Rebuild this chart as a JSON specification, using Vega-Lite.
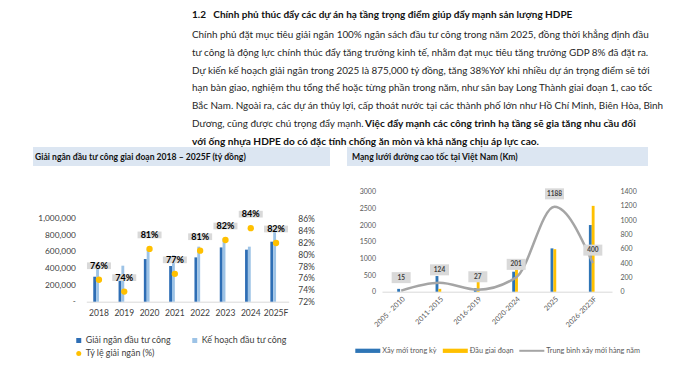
{
  "$schema": "https://vega.github.io/schema/vega-lite/v6.json",
  "background": "white",
  "padding": {"left": 33, "top": 0, "right": 0, "bottom": 0},
  "spacing": 0,
  "bounds": "flush",
  "resolve": {"scale": {"color": "independent"}, "legend": {"color": "independent"}},
  "config": {
    "view": {"stroke": null},
    "font": "Lato",
    "axis": {"labelFont": "Lato", "grid": false, "ticks": false, "domain": false, "title": null},
    "legend": {"labelFont": "Lato"}
  },
  "datasets": {
    "para": [
      {"line": 0, "kind": "h", "t": "1.2\u00a0\u00a0\u00a0Chính phủ thúc đẩy các dự án hạ tầng trọng điểm giúp đẩy mạnh sản lượng HDPE"},
      {"line": 1, "kind": "r", "t": "Chính phủ đặt mục tiêu giải ngân 100% ngân sách đầu tư công trong năm 2025, đồng thời khẳng định đầu"},
      {"line": 2, "kind": "r", "t": "tư công là động lực chính thúc đẩy tăng trưởng kinh tế, nhằm đạt mục tiêu tăng trưởng GDP 8% đã đặt ra."},
      {"line": 3, "kind": "r", "t": "Dự kiến kế hoạch giải ngân trong 2025 là 875,000 tỷ đồng, tăng 38%YoY khi nhiều dự án trọng điểm sẽ tới"},
      {"line": 4, "kind": "r", "t": "hạn bàn giao, nghiệm thu tổng thể hoặc từng phần trong năm, như sân bay Long Thành giai đoạn 1, cao tốc"},
      {"line": 5, "kind": "r", "t": "Bắc Nam. Ngoài ra, các dự án thủy lợi, cấp thoát nước tại các thành phố lớn như Hồ Chí Minh, Biên Hòa, Bình"},
      {"line": 6, "kind": "r", "t": "Dương, cũng được chú trọng đẩy mạnh."},
      {"line": 6, "kind": "bm", "t": "Việc đẩy mạnh các công trình hạ tầng sẽ gia tăng nhu cầu đối"},
      {"line": 7, "kind": "b", "t": "với ống nhựa HDPE do có đặc tính chống ăn mòn và khả năng chịu áp lực cao."}
    ],
    "spend": [
      {"year": "2018", "series": "Giải ngân đầu tư công", "value": 301000},
      {"year": "2018", "series": "Kế hoạch đầu tư công", "value": 397000},
      {"year": "2019", "series": "Giải ngân đầu tư công", "value": 321000},
      {"year": "2019", "series": "Kế hoạch đầu tư công", "value": 434000},
      {"year": "2020", "series": "Giải ngân đầu tư công", "value": 514000},
      {"year": "2020", "series": "Kế hoạch đầu tư công", "value": 638000},
      {"year": "2021", "series": "Giải ngân đầu tư công", "value": 430000},
      {"year": "2021", "series": "Kế hoạch đầu tư công", "value": 558000},
      {"year": "2022", "series": "Giải ngân đầu tư công", "value": 534000},
      {"year": "2022", "series": "Kế hoạch đầu tư công", "value": 663000},
      {"year": "2023", "series": "Giải ngân đầu tư công", "value": 654000},
      {"year": "2023", "series": "Kế hoạch đầu tư công", "value": 762000},
      {"year": "2024", "series": "Giải ngân đầu tư công", "value": 627000},
      {"year": "2024", "series": "Kế hoạch đầu tư công", "value": 663000},
      {"year": "2025F", "series": "Giải ngân đầu tư công", "value": 723000},
      {"year": "2025F", "series": "Kế hoạch đầu tư công", "value": 875000}
    ],
    "rate": [
      {"year": "2018", "series": "Tỷ lệ giải ngân (%)", "rate": 0.757},
      {"year": "2019", "series": "Tỷ lệ giải ngân (%)", "rate": 0.737},
      {"year": "2020", "series": "Tỷ lệ giải ngân (%)", "rate": 0.809},
      {"year": "2021", "series": "Tỷ lệ giải ngân (%)", "rate": 0.767},
      {"year": "2022", "series": "Tỷ lệ giải ngân (%)", "rate": 0.806},
      {"year": "2023", "series": "Tỷ lệ giải ngân (%)", "rate": 0.824},
      {"year": "2024", "series": "Tỷ lệ giải ngân (%)", "rate": 0.844},
      {"year": "2025F", "series": "Tỷ lệ giải ngân (%)", "rate": 0.819}
    ],
    "km": [
      {"period": "2005 - 2010", "series": "Xây mới trong kỳ", "km": 85},
      {"period": "2005 - 2010", "series": "Đầu giai đoạn", "km": 0},
      {"period": "2011-2015", "series": "Xây mới trong kỳ", "km": 470},
      {"period": "2011-2015", "series": "Đầu giai đoạn", "km": 85},
      {"period": "2016-2019", "series": "Xây mới trong kỳ", "km": 105},
      {"period": "2016-2019", "series": "Đầu giai đoạn", "km": 555},
      {"period": "2020-2024", "series": "Xây mới trong kỳ", "km": 600},
      {"period": "2020-2024", "series": "Đầu giai đoạn", "km": 665},
      {"period": "2025", "series": "Xây mới trong kỳ", "km": 1300},
      {"period": "2025", "series": "Đầu giai đoạn", "km": 1275},
      {"period": "2026-2023F", "series": "Xây mới trong kỳ", "km": 2000},
      {"period": "2026-2023F", "series": "Đầu giai đoạn", "km": 2575}
    ],
    "avg": [
      {"period": "2005 - 2010", "avg": 15},
      {"period": "2011-2015", "avg": 124},
      {"period": "2016-2019", "avg": 27},
      {"period": "2020-2024", "avg": 201},
      {"period": "2025", "avg": 1188},
      {"period": "2026-2023F", "avg": 400}
    ]
  },
  "vconcat": [
    {
      "width": 615,
      "height": 147,
      "data": {"name": "para"},
      "encoding": {
        "y": {"field": "line", "type": "quantitative", "scale": {"domain": [-0.97, 7.29], "reverse": true}, "axis": null}
      },
      "layer": [
        {
          "transform": [{"filter": "datum.kind == 'h'"}],
          "mark": {"type": "text", "align": "left", "baseline": "middle", "fontWeight": "bold", "fontSize": 10, "dy": -2, "color": "#111111"},
          "encoding": {"x": {"datum": 159, "type": "quantitative", "scale": {"domain": [0, 615]}, "axis": null}, "text": {"field": "t"}}
        },
        {
          "transform": [{"filter": "datum.kind == 'r'"}],
          "mark": {"type": "text", "align": "left", "baseline": "middle", "fontSize": 9.9, "color": "#1f1f1f"},
          "encoding": {"x": {"datum": 159, "type": "quantitative", "scale": {"domain": [0, 615]}, "axis": null}, "text": {"field": "t"}}
        },
        {
          "transform": [{"filter": "datum.kind == 'b'"}],
          "mark": {"type": "text", "align": "left", "baseline": "middle", "fontSize": 10.1, "fontWeight": "bold", "color": "#111111"},
          "encoding": {"x": {"datum": 159, "type": "quantitative", "scale": {"domain": [0, 615]}, "axis": null}, "text": {"field": "t"}}
        },
        {
          "transform": [{"filter": "datum.kind == 'bm'"}],
          "mark": {"type": "text", "align": "left", "baseline": "middle", "fontSize": 10.1, "fontWeight": "bold", "color": "#111111"},
          "encoding": {"x": {"datum": 332, "type": "quantitative", "scale": {"domain": [0, 615]}, "axis": null}, "text": {"field": "t"}}
        }
      ]
    },
    {
      "spacing": 44.7,
      "bounds": "flush",
      "resolve": {"scale": {"color": "independent"}, "legend": {"color": "independent"}},
      "vconcat": [
        {
          "spacing": 17,
          "bounds": "flush",
          "hconcat": [
            {
              "width": 297,
              "height": 19,
              "view": {"fill": "#dce6f2"},
              "data": {"values": [{"t": "Giải ngân đầu tư công giai đoạn 2018 – 2025F (tỷ đồng)"}]},
              "mark": {"type": "text", "align": "left", "baseline": "middle", "fontWeight": "bold", "fontSize": 8.6, "dx": 2, "color": "#111111"},
              "encoding": {"x": {"datum": 0, "type": "quantitative", "scale": {"domain": [0, 1]}, "axis": null}, "text": {"field": "t"}}
            },
            {
              "width": 301,
              "height": 19,
              "view": {"fill": "#dce6f2"},
              "data": {"values": [{"t": "Mạng lưới đường cao tốc tại Việt Nam (Km)"}]},
              "mark": {"type": "text", "align": "left", "baseline": "middle", "fontWeight": "bold", "fontSize": 8.6, "dx": 5, "color": "#111111"},
              "encoding": {"x": {"datum": 0, "type": "quantitative", "scale": {"domain": [0, 1]}, "axis": null}, "text": {"field": "t"}}
            }
          ]
        },
        {
          "spacing": 93,
          "bounds": "flush",
          "resolve": {"scale": {"color": "independent"}, "legend": {"color": "independent"}},
          "hconcat": [
            {
              "width": 255.7,
              "height": 110,
              "encoding": {
                "x": {"field": "year", "type": "nominal", "scale": {"range": [53.3, 255.7], "paddingInner": 0.55, "paddingOuter": 0.275},
                  "axis": {"title": null, "labelAngle": 0, "domain": true, "domainColor": "#d9d9d9", "ticks": false, "labelFontSize": 8.5, "labelColor": "#404040", "labelPadding": 7}}
              },
              "layer": [
                {
                  "data": {"name": "spend"},
                  "mark": {"type": "bar"},
                  "encoding": {
                    "xOffset": {"field": "series", "scale": {"domain": ["Giải ngân đầu tư công", "Kế hoạch đầu tư công"], "paddingInner": 0}},
                    "y": {"field": "value", "type": "quantitative", "scale": {"domain": [0, 1325300]},
                      "axis": {"title": null, "offset": -53.3, "values": [0, 200000, 400000, 600000, 800000, 1000000], "labelExpr": "datum.value == 0 ? '-\u00a0\u00a0' : format(datum.value, ',')", "labelFontSize": 8.3, "labelColor": "#404040", "labelPadding": 11}},
                    "color": {"field": "series", "type": "nominal",
                      "scale": {"domain": ["Giải ngân đầu tư công", "Kế hoạch đầu tư công", "Tỷ lệ giải ngân (%)"], "range": ["#2e6eb5", "#9dc3e6", "#ffc000"]},
                      "legend": {"title": null, "orient": "none", "legendX": 41.3, "legendY": 144, "direction": "horizontal", "columns": 2, "columnPadding": 19, "rowPadding": 3.3, "labelFontSize": 8.9, "labelColor": "#404040", "symbolSize": 25, "symbolStrokeWidth": 0, "labelOffset": 2.5,
                        "encode": {"symbols": {"update": {"shape": {"signal": "datum.value === 'Tỷ lệ giải ngân (%)' ? 'circle' : 'square'"}}}}}}
                  }
                },
                {
                  "data": {"name": "rate"},
                  "encoding": {
                    "y": {"field": "rate", "type": "quantitative", "scale": {"domain": [0.72, 0.9055]},
                      "axis": {"orient": "right", "title": null, "values": [0.72, 0.74, 0.76, 0.78, 0.8, 0.82, 0.84, 0.86], "format": ".0%", "labelFontSize": 8.5, "labelColor": "#404040", "labelPadding": 9}}
                  },
                  "layer": [
                    {"mark": {"type": "point", "filled": true, "size": 40, "opacity": 1},
                      "encoding": {"color": {"field": "series", "type": "nominal",
                        "legend": {"title": null, "orient": "none", "legendX": 41.3, "legendY": 144, "direction": "horizontal", "columns": 2, "columnPadding": 19, "rowPadding": 3.3, "labelFontSize": 8.9, "labelColor": "#404040", "symbolSize": 25, "symbolStrokeWidth": 0, "labelOffset": 2.5,
                          "encode": {"symbols": {"update": {"shape": {"signal": "datum.value === 'Tỷ lệ giải ngân (%)' ? 'circle' : 'square'"}}}}}}}},
                    {"mark": {"type": "point", "shape": "M-1,-0.28H1V0.28H-1Z", "size": 576, "filled": true, "color": "#d9d9d9", "opacity": 1, "yOffset": -14}, "encoding": {}},
                    {"mark": {"type": "text", "fontWeight": "bold", "fontSize": 9, "color": "#000000", "yOffset": -14, "baseline": "middle"},
                      "encoding": {"text": {"field": "rate", "format": ".0%"}}}
                  ]
                }
              ],
              "resolve": {"scale": {"y": "independent"}}
            },
            {
              "width": 230,
              "height": 100,
              "encoding": {
                "x": {"field": "period", "type": "nominal",
                  "scale": {"domain": ["2005 - 2010", "2011-2015", "2016-2019", "2020-2024", "2025", "2026-2023F"], "paddingInner": 0.497, "paddingOuter": 0.2485},
                  "axis": {"title": null, "labelAngle": -45, "domain": true, "domainColor": "#d9d9d9", "ticks": false, "labelFontSize": 7.2, "labelColor": "#595959", "labelPadding": 3}}
              },
              "layer": [
                {
                  "data": {"name": "km"},
                  "mark": {"type": "bar"},
                  "encoding": {
                    "xOffset": {"field": "series", "scale": {"domain": ["Xây mới trong kỳ", "Đầu giai đoạn"], "paddingInner": 0.245}},
                    "y": {"field": "km", "type": "quantitative", "scale": {"domain": [0, 3000]},
                      "axis": {"title": null, "values": [0, 500, 1000, 1500, 2000, 2500, 3000], "format": "d", "labelFontSize": 7, "labelColor": "#595959", "labelPadding": 6.5}},
                    "color": {"field": "series", "type": "nominal",
                      "scale": {"domain": ["Xây mới trong kỳ", "Đầu giai đoạn", "Trung bình xây mới hàng năm"], "range": ["#2e75b6", "#ffc000", "#a5a5a5"]},
                      "legend": {"title": null, "orient": "none", "legendX": -26.7, "legendY": 146.5, "direction": "horizontal", "columnPadding": 5.5, "labelFontSize": 7.3, "labelColor": "#595959", "symbolSize": 625, "symbolStrokeWidth": 0, "labelOffset": 2,
                        "encode": {"symbols": {"update": {"shape": {"signal": "datum.value === 'Trung bình xây mới hàng năm' ? 'M-1,-0.08H1V0.08H-1Z' : 'M-1,-0.17H1V0.17H-1Z'"}}}}}}
                  }
                },
                {
                  "data": {"name": "avg"},
                  "encoding": {
                    "y": {"field": "avg", "type": "quantitative", "scale": {"domain": [0, 1400]},
                      "axis": {"orient": "right", "title": null, "values": [0, 200, 400, 600, 800, 1000, 1200, 1400], "format": "d", "labelFontSize": 7, "labelColor": "#595959", "labelPadding": 8}}
                  },
                  "layer": [
                    {"mark": {"type": "line", "interpolate": "monotone", "color": "#a5a5a5", "strokeWidth": 2.5}, "encoding": {}},
                    {"mark": {"type": "point", "shape": "M-1,-0.58H1V0.58H-1Z", "size": 361, "filled": true, "color": "#d9d9d9", "opacity": 1, "yOffset": -13}, "encoding": {}},
                    {"mark": {"type": "text", "fontWeight": "bold", "fontSize": 6.5, "color": "#404040", "yOffset": -13, "baseline": "middle"},
                      "encoding": {"text": {"field": "avg", "format": "d"}}}
                  ]
                }
              ],
              "resolve": {"scale": {"y": "independent"}}
            }
          ]
        }
      ]
    }
  ]
}
